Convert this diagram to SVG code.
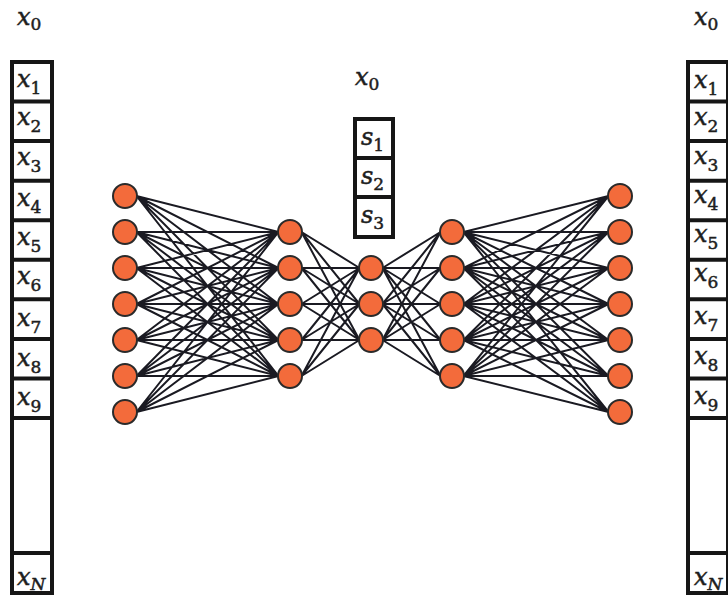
<svg xmlns="http://www.w3.org/2000/svg" width="728" height="597" viewBox="0 0 728 597">
  <style>
    .frame { fill: #fff; stroke: #161616; stroke-width: 4; }
    .sep { stroke: #161616; stroke-width: 4; }
    .lbl { font-family: "DejaVu Serif", "Liberation Serif", serif; font-style: italic; font-size: 24px; fill: #1e1e1e; stroke: #1e1e1e; stroke-width: 0.5; }
    .sub { font-style: normal; font-size: 17px; }
    .subi { font-style: italic; font-size: 17px; }
    .edge { fill: none; stroke: #1a1a22; stroke-width: 2; }
    .neuron { fill: #f36b3b; stroke: #2a2a2a; stroke-width: 2; }
  </style>
  <rect width="728" height="597" fill="#fff"/>

  <!-- input vector -->
  <g id="input-vector">
    <text class="lbl" x="17" y="25">x<tspan class="sub" dy="5">0</tspan></text>
    <rect class="frame" x="12" y="62" width="40" height="531"/>
    <g class="sep">
      <line x1="12" y1="101.6" x2="52" y2="101.6"/>
      <line x1="12" y1="141.1" x2="52" y2="141.1"/>
      <line x1="12" y1="180.7" x2="52" y2="180.7"/>
      <line x1="12" y1="220.2" x2="52" y2="220.2"/>
      <line x1="12" y1="259.8" x2="52" y2="259.8"/>
      <line x1="12" y1="299.3" x2="52" y2="299.3"/>
      <line x1="12" y1="338.9" x2="52" y2="338.9"/>
      <line x1="12" y1="378.4" x2="52" y2="378.4"/>
      <line x1="12" y1="418" x2="52" y2="418"/>
      <line x1="12" y1="553" x2="52" y2="553"/>
    </g>
    <text class="lbl" x="17" y="87">x<tspan class="sub" dy="7">1</tspan></text>
    <text class="lbl" x="17" y="125">x<tspan class="sub" dy="7">2</tspan></text>
    <text class="lbl" x="17" y="165">x<tspan class="sub" dy="7">3</tspan></text>
    <text class="lbl" x="17" y="206">x<tspan class="sub" dy="7">4</tspan></text>
    <text class="lbl" x="17" y="245">x<tspan class="sub" dy="7">5</tspan></text>
    <text class="lbl" x="17" y="284">x<tspan class="sub" dy="7">6</tspan></text>
    <text class="lbl" x="17" y="326">x<tspan class="sub" dy="7">7</tspan></text>
    <text class="lbl" x="17" y="366">x<tspan class="sub" dy="7">8</tspan></text>
    <text class="lbl" x="17" y="405">x<tspan class="sub" dy="7">9</tspan></text>
    <text class="lbl" x="17" y="585">x<tspan class="subi" dy="5">N</tspan></text>
  </g>

  <!-- latent code -->
  <g id="latent-code">
    <text class="lbl" x="355" y="85">x<tspan class="sub" dy="5">0</tspan></text>
    <rect class="frame" x="355" y="119" width="38" height="118"/>
    <line class="sep" x1="355" y1="158" x2="393" y2="158"/>
    <line class="sep" x1="355" y1="197" x2="393" y2="197"/>
    <text class="lbl" x="361" y="145">s<tspan class="sub" dy="6">1</tspan></text>
    <text class="lbl" x="361" y="184">s<tspan class="sub" dy="6">2</tspan></text>
    <text class="lbl" x="361" y="223">s<tspan class="sub" dy="6">3</tspan></text>
  </g>

  <!-- reconstructed vector -->
  <g id="output-vector">
    <text class="lbl" x="694" y="25">x<tspan class="sub" dy="5">0</tspan></text>
    <rect class="frame" x="688" y="62" width="40" height="531"/>
    <g class="sep">
      <line x1="688" y1="101.6" x2="728" y2="101.6"/>
      <line x1="688" y1="141.1" x2="728" y2="141.1"/>
      <line x1="688" y1="180.7" x2="728" y2="180.7"/>
      <line x1="688" y1="220.2" x2="728" y2="220.2"/>
      <line x1="688" y1="259.8" x2="728" y2="259.8"/>
      <line x1="688" y1="299.3" x2="728" y2="299.3"/>
      <line x1="688" y1="338.9" x2="728" y2="338.9"/>
      <line x1="688" y1="378.4" x2="728" y2="378.4"/>
      <line x1="688" y1="418" x2="728" y2="418"/>
      <line x1="688" y1="553" x2="728" y2="553"/>
    </g>
    <text class="lbl" x="694" y="88">x<tspan class="sub" dy="7">1</tspan></text>
    <text class="lbl" x="694" y="125">x<tspan class="sub" dy="7">2</tspan></text>
    <text class="lbl" x="694" y="164">x<tspan class="sub" dy="7">3</tspan></text>
    <text class="lbl" x="694" y="203">x<tspan class="sub" dy="7">4</tspan></text>
    <text class="lbl" x="694" y="242">x<tspan class="sub" dy="7">5</tspan></text>
    <text class="lbl" x="694" y="281">x<tspan class="sub" dy="7">6</tspan></text>
    <text class="lbl" x="694" y="324">x<tspan class="sub" dy="7">7</tspan></text>
    <text class="lbl" x="694" y="364">x<tspan class="sub" dy="7">8</tspan></text>
    <text class="lbl" x="694" y="404">x<tspan class="sub" dy="7">9</tspan></text>
    <text class="lbl" x="694" y="585">x<tspan class="subi" dy="5">N</tspan></text>
  </g>

  <!-- fully connected weights between layers -->
  <g id="connectors" class="edge">
    <path d="M136.5 196L278.5 232M136.5 196L278.5 268M136.5 196L278.5 304M136.5 196L278.5 340M136.5 196L278.5 376
             M136.5 232L278.5 232M136.5 232L278.5 268M136.5 232L278.5 304M136.5 232L278.5 340M136.5 232L278.5 376
             M136.5 268L278.5 232M136.5 268L278.5 268M136.5 268L278.5 304M136.5 268L278.5 340M136.5 268L278.5 376
             M136.5 304L278.5 232M136.5 304L278.5 268M136.5 304L278.5 304M136.5 304L278.5 340M136.5 304L278.5 376
             M136.5 340L278.5 232M136.5 340L278.5 268M136.5 340L278.5 304M136.5 340L278.5 340M136.5 340L278.5 376
             M136.5 376L278.5 232M136.5 376L278.5 268M136.5 376L278.5 304M136.5 376L278.5 340M136.5 376L278.5 376
             M136.5 412L278.5 232M136.5 412L278.5 268M136.5 412L278.5 304M136.5 412L278.5 340M136.5 412L278.5 376"/>
    <path d="M301.5 232L359.5 268M301.5 232L359.5 304M301.5 232L359.5 340
             M301.5 268L359.5 268M301.5 268L359.5 304M301.5 268L359.5 340
             M301.5 304L359.5 268M301.5 304L359.5 304M301.5 304L359.5 340
             M301.5 340L359.5 268M301.5 340L359.5 304M301.5 340L359.5 340
             M301.5 376L359.5 268M301.5 376L359.5 304M301.5 376L359.5 340"/>
    <path d="M382.5 268L440.5 232M382.5 268L440.5 268M382.5 268L440.5 304M382.5 268L440.5 340M382.5 268L440.5 376
             M382.5 304L440.5 232M382.5 304L440.5 268M382.5 304L440.5 304M382.5 304L440.5 340M382.5 304L440.5 376
             M382.5 340L440.5 232M382.5 340L440.5 268M382.5 340L440.5 304M382.5 340L440.5 340M382.5 340L440.5 376"/>
    <path d="M463.5 232L608.5 196M463.5 232L608.5 232M463.5 232L608.5 268M463.5 232L608.5 304M463.5 232L608.5 340M463.5 232L608.5 376M463.5 232L608.5 412
             M463.5 268L608.5 196M463.5 268L608.5 232M463.5 268L608.5 268M463.5 268L608.5 304M463.5 268L608.5 340M463.5 268L608.5 376M463.5 268L608.5 412
             M463.5 304L608.5 196M463.5 304L608.5 232M463.5 304L608.5 268M463.5 304L608.5 304M463.5 304L608.5 340M463.5 304L608.5 376M463.5 304L608.5 412
             M463.5 340L608.5 196M463.5 340L608.5 232M463.5 340L608.5 268M463.5 340L608.5 304M463.5 340L608.5 340M463.5 340L608.5 376M463.5 340L608.5 412
             M463.5 376L608.5 196M463.5 376L608.5 232M463.5 376L608.5 268M463.5 376L608.5 304M463.5 376L608.5 340M463.5 376L608.5 376M463.5 376L608.5 412"/>
  </g>

  <!-- neurons -->
  <g id="layer-input" class="neuron">
    <circle cx="125" cy="196" r="12"/>
    <circle cx="125" cy="232" r="12"/>
    <circle cx="125" cy="268" r="12"/>
    <circle cx="125" cy="304" r="12"/>
    <circle cx="125" cy="340" r="12"/>
    <circle cx="125" cy="376" r="12"/>
    <circle cx="125" cy="412" r="12"/>
  </g>
  <g id="layer-encoder" class="neuron">
    <circle cx="290" cy="232" r="12"/>
    <circle cx="290" cy="268" r="12"/>
    <circle cx="290" cy="304" r="12"/>
    <circle cx="290" cy="340" r="12"/>
    <circle cx="290" cy="376" r="12"/>
  </g>
  <g id="layer-bottleneck" class="neuron">
    <circle cx="371" cy="268" r="12"/>
    <circle cx="371" cy="304" r="12"/>
    <circle cx="371" cy="340" r="12"/>
  </g>
  <g id="layer-decoder" class="neuron">
    <circle cx="452" cy="232" r="12"/>
    <circle cx="452" cy="268" r="12"/>
    <circle cx="452" cy="304" r="12"/>
    <circle cx="452" cy="340" r="12"/>
    <circle cx="452" cy="376" r="12"/>
  </g>
  <g id="layer-output" class="neuron">
    <circle cx="620" cy="196" r="12"/>
    <circle cx="620" cy="232" r="12"/>
    <circle cx="620" cy="268" r="12"/>
    <circle cx="620" cy="304" r="12"/>
    <circle cx="620" cy="340" r="12"/>
    <circle cx="620" cy="376" r="12"/>
    <circle cx="620" cy="412" r="12"/>
  </g>
</svg>
